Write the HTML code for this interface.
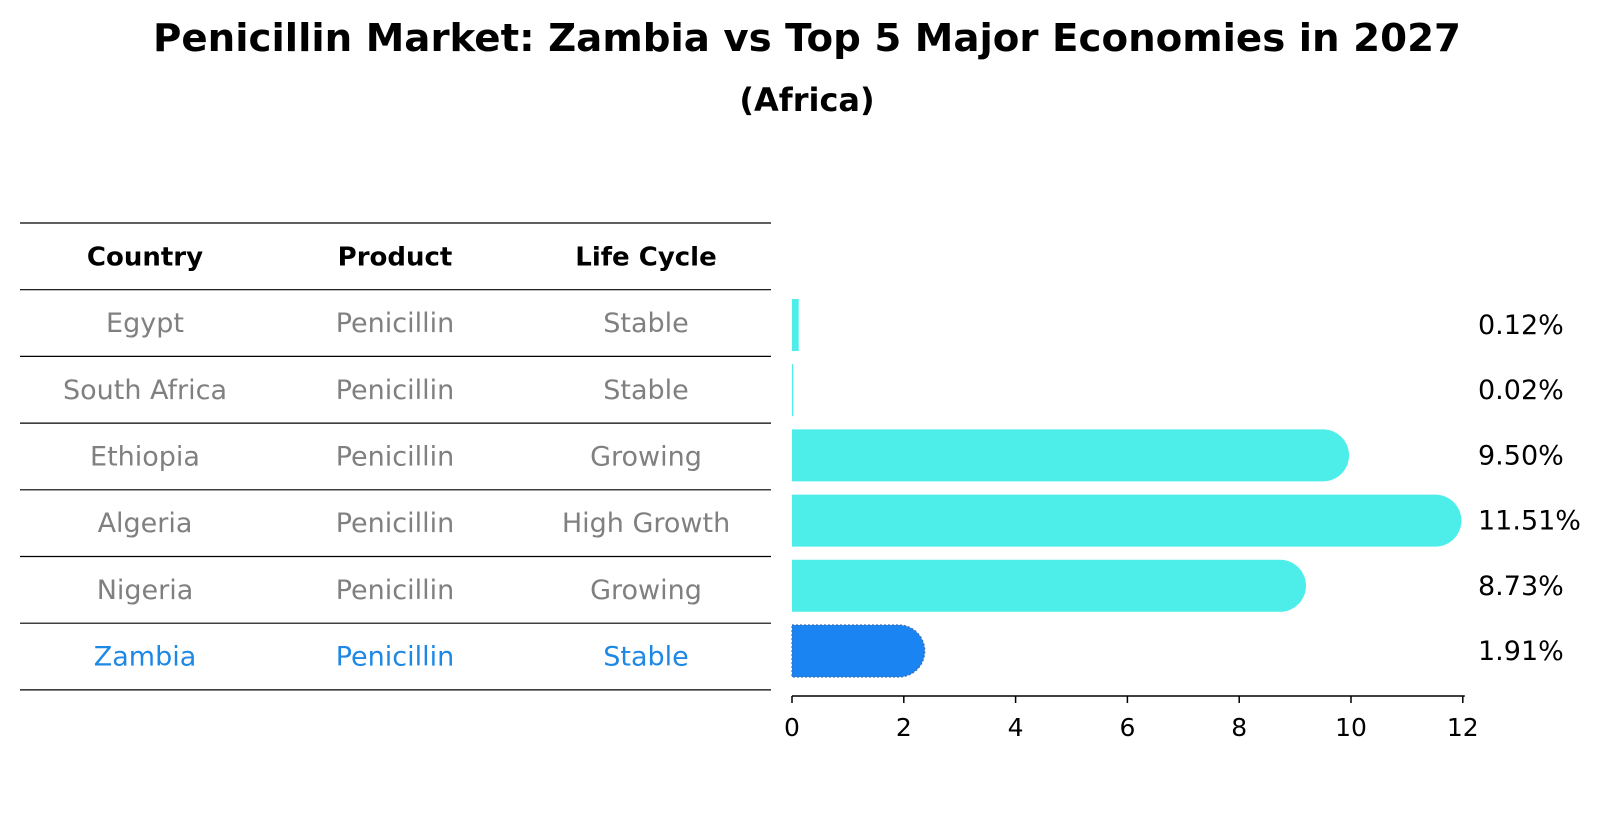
<!DOCTYPE html>
<html><head><meta charset="utf-8"><style>
body{margin:0;background:#fff;}
svg text{font-family:"DejaVu Sans","Liberation Sans",sans-serif;}
</style></head><body>
<svg id="chart" width="1604" height="823" viewBox="0 0 1604 823" xmlns="http://www.w3.org/2000/svg">
<text x="807" y="51" text-anchor="middle" font-size="38" font-weight="bold" textLength="1308" lengthAdjust="spacingAndGlyphs">Penicillin Market: Zambia vs Top 5 Major Economies in 2027</text>
<text x="807" y="111" text-anchor="middle" font-size="32" font-weight="bold">(Africa)</text>
<g id="table"></g>
<g id="bars"></g>
<g id="axis"></g>
</svg>
<script>
const countries=["Egypt","South Africa","Ethiopia","Algeria","Nigeria","Zambia"];
const products=["Penicillin","Penicillin","Penicillin","Penicillin","Penicillin","Penicillin"];
const lifeCycles=["Stable","Stable","Growing","High Growth","Growing","Stable"];
const values=[0.12,0.02,9.50,11.51,8.73,1.91];
const valueLabels=["0.12%","0.02%","9.50%","11.51%","8.73%","1.91%"];
const ticks=[0,2,4,6,8,10,12];
const headers=["Country","Product","Life Cycle"];

const NS="http://www.w3.org/2000/svg";
function mk(tag,attrs,parent,txt){const e=document.createElementNS(NS,tag);for(const k in attrs)e.setAttribute(k,attrs[k]);if(txt!==undefined)e.textContent=txt;parent.appendChild(e);return e;}
const x0=792,xPer=55.9;
const xs=v=>x0+v*xPer;
const rowTop=223,rowH=66.7;
const barC=i=>325+i*65.2;
const barH=52;

const table=document.getElementById('table');
const colX=[145,395,646];
for(let i=0;i<=countries.length+1;i++){
  const l=mk('line',{x1:20,x2:771,y1:rowTop+i*rowH,y2:rowTop+i*rowH,stroke:'#000','stroke-width':1.2},table);
  
  
}
headers.forEach((h,j)=>{
  const t=mk('text',{x:colX[j],y:rowTop+rowH/2+9,'text-anchor':'middle','font-size':26,'font-weight':'bold'},table,h);
  
  
});
countries.forEach((c,i)=>{
  const col=c==="Zambia"?"#1E88E5":"#808080";
  const y=rowTop+(i+1)*rowH+rowH/2+9;
  [c,products[i],lifeCycles[i]].forEach((s,j)=>{
    const t=mk('text',{x:colX[j],y:y,'text-anchor':'middle','font-size':27,fill:col},table,s);
    
    
  });
});

const bars=document.getElementById('bars');
values.forEach((v,i)=>{
  const isZ=countries[i]==="Zambia";
  const fill=isZ?"#1A84F2":"#4DEEEA";
  const w=xs(v)-x0, r=barH/2, top=barC(i)-r;
  let d;
  if(w>2*r){
    d=`M${x0},${top} H${xs(v)} A${r},${r} 0 0 1 ${xs(v)},${top+barH} H${x0} Z`;
  } else {
    d=`M${x0},${top} H${x0+Math.max(w,1)} V${top+barH} H${x0} Z`;
  }
  const p=mk('path',{d:d,fill:fill},bars);
  if(isZ){p.setAttribute('stroke','#3a6fb8');p.setAttribute('stroke-dasharray','2 2');p.setAttribute('stroke-width','1.2');}
  
  
  const t=mk('text',{x:1478,y:barC(i)+9,'font-size':27},bars,valueLabels[i]);
  
  
});

const axis=document.getElementById('axis');
const al=mk('line',{x1:x0,x2:xs(12)+2,y1:696,y2:696,stroke:'#000','stroke-width':1.5},axis);


ticks.forEach(t=>{
  const tk=mk('line',{x1:xs(t),x2:xs(t),y1:696,y2:703,stroke:'#000','stroke-width':1.5},axis);
  
  
  const lb=mk('text',{x:xs(t),y:736,'text-anchor':'middle','font-size':25},axis,String(t));
  
  
});
</script>
</body></html>
